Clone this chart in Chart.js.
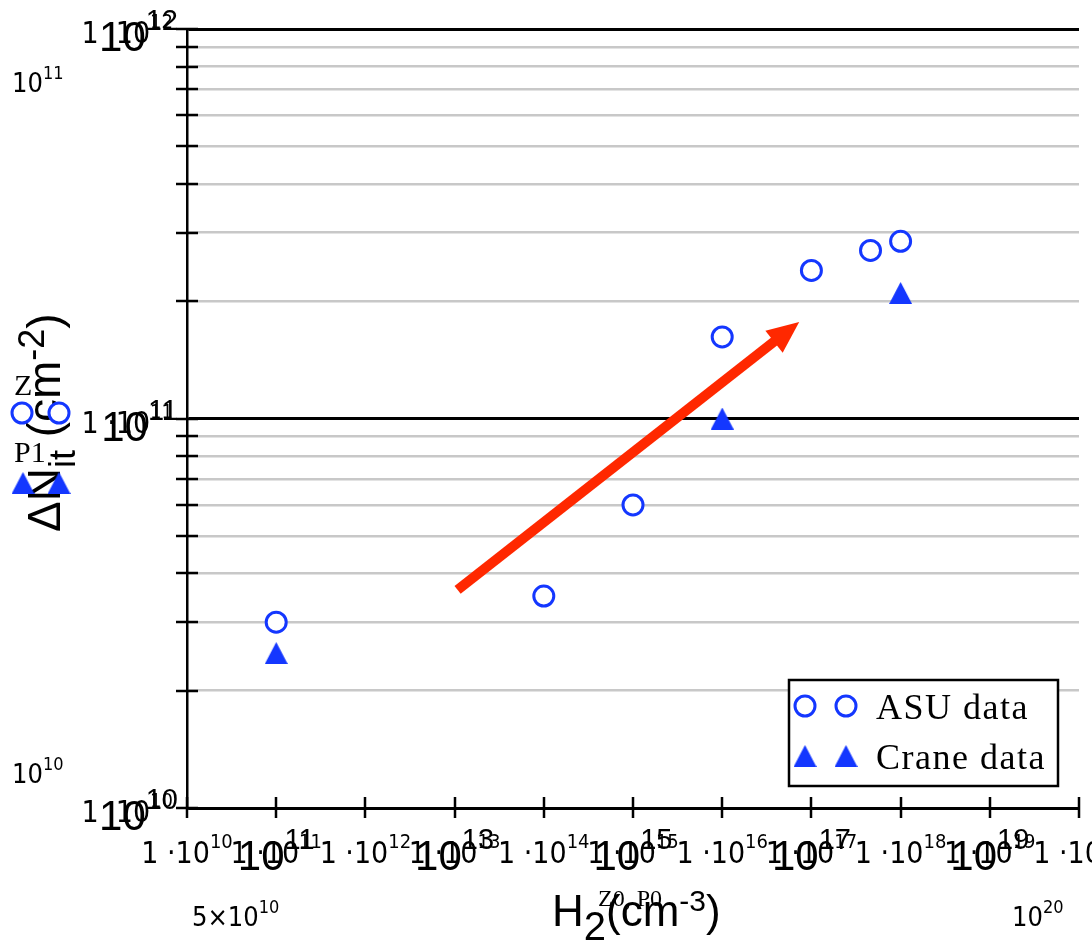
<!DOCTYPE html>
<html>
<head>
<meta charset="utf-8">
<script src="https://cdn.jsdelivr.net/npm/chart.js@4.4.0/dist/chart.umd.min.js"></script>
<style>
  html, body { margin: 0; padding: 0; background: #fff; }
  canvas { display: block; }
</style>
</head>
<body>
<canvas id="myChart" width="1092" height="941"></canvas>
<script>
// H2 concentration (cm^-3) against interface trap build-up (cm^-2)
const asuH2 = [1e11, 1e14, 1e15, 1e16, 1e17, 4.6e17, 1e18];
const asuNit = [3.0e10, 3.5e10, 6.0e10, 1.62e11, 2.4e11, 2.7e11, 2.85e11];
const craneH2 = [1e11, 1e16, 1e18];
const craneNit = [2.5e10, 1.0e11, 2.1e11];

// trend arrow: tail, then tip
const arrowH2 = [1.08e13, 7.3e16];
const arrowNit = [3.63e10, 1.77e11];

// axis decades (exponents) and horizontal grid values
const xDecades = [10, 11, 12, 13, 14, 15, 16, 17, 18, 19, 20];
const yDecades = [10, 11, 12];
const yGridValues = [1e10, 2e10, 3e10, 4e10, 5e10, 6e10, 7e10, 8e10, 9e10,
                     1e11, 2e11, 3e11, 4e11, 5e11, 6e11, 7e11, 8e11, 9e11, 1e12];

const seriesNames = ['ASU data', 'Crane data'];

const blue = '#1437ff';
const red = '#ff2800';
const NARROW = '"Liberation Sans Narrow", "DejaVu Sans Condensed", sans-serif';
const SANS = '"Liberation Sans", Arial, sans-serif';
const SERIF = '"Liberation Serif", "DejaVu Serif", serif';

function makeTriangle(w, h) {
    const c = document.createElement('canvas');
    c.width = w;
    c.height = h;
    const g = c.getContext('2d');
    g.fillStyle = blue;
    g.beginPath();
    g.moveTo(w / 2, 0);
    g.lineTo(w, h);
    g.lineTo(0, h);
    g.closePath();
    g.fill();
    return c;
}
const triangle = makeTriangle(23, 22);

function isMajor(v) {
    return yDecades.some(e => Math.abs(v - Math.pow(10, e)) < v * 1e-6);
}

// "lead10^exp" with a raised exponent
function powText(ctx, x, y, lead, exp, size, family, align, supRatio) {
    supRatio = supRatio || 0.62;
    const supSize = Math.round(size * supRatio);
    ctx.font = size + 'px ' + family;
    const wBase = ctx.measureText(lead + '10').width;
    ctx.font = supSize + 'px ' + family;
    const wSup = ctx.measureText(String(exp)).width;
    const total = wBase + wSup;
    let x0 = x;
    if (align === 'right') x0 = x - total;
    if (align === 'center') x0 = x - total / 2;
    ctx.textAlign = 'left';
    ctx.textBaseline = 'alphabetic';
    ctx.font = size + 'px ' + family;
    ctx.fillText(lead + '10', x0, y);
    ctx.font = supSize + 'px ' + family;
    ctx.fillText(String(exp), x0 + wBase, y - size * 0.5);
}

// draw pieces one after another: [text, size, family, dy]
function runText(ctx, x, y, parts) {
    ctx.textAlign = 'left';
    ctx.textBaseline = 'alphabetic';
    let cx = x;
    parts.forEach(p => {
        ctx.font = p[1] + 'px ' + p[2];
        ctx.fillText(p[0], cx, y + p[3]);
        cx += ctx.measureText(p[0]).width;
    });
}

function drawCircle(ctx, x, y) {
    ctx.save();
    ctx.beginPath();
    ctx.arc(x, y, 10, 0, Math.PI * 2);
    ctx.fillStyle = '#fff';
    ctx.fill();
    ctx.lineWidth = 3;
    ctx.strokeStyle = blue;
    ctx.stroke();
    ctx.restore();
}

function drawTriangle(ctx, x, y) {
    ctx.drawImage(triangle, x - triangle.width / 2, y - triangle.height / 2);
}

const decorations = {
    id: 'decorations',
    afterDraw(chart) {
        const ctx = chart.ctx;
        const xs = chart.scales.x;
        const ys = chart.scales.y;
        const area = chart.chartArea;
        ctx.save();

        // trend arrow
        const x1 = xs.getPixelForValue(arrowH2[0]);
        const y1 = ys.getPixelForValue(arrowNit[0]);
        const x2 = xs.getPixelForValue(arrowH2[1]);
        const y2 = ys.getPixelForValue(arrowNit[1]);
        const len = Math.hypot(x2 - x1, y2 - y1);
        const ux = (x2 - x1) / len;
        const uy = (y2 - y1) / len;
        const headLen = 32;
        const headHalf = 14;
        const bx = x2 - ux * headLen;
        const by = y2 - uy * headLen;
        ctx.strokeStyle = red;
        ctx.fillStyle = red;
        ctx.lineWidth = 10;
        ctx.lineCap = 'butt';
        ctx.beginPath();
        ctx.moveTo(x1, y1);
        ctx.lineTo(bx + ux * 2, by + uy * 2);
        ctx.stroke();
        ctx.beginPath();
        ctx.moveTo(x2, y2);
        ctx.lineTo(bx - uy * headHalf, by + ux * headHalf);
        ctx.lineTo(bx + uy * headHalf, by - ux * headHalf);
        ctx.closePath();
        ctx.fill();

        // cross tick marks
        ctx.strokeStyle = '#000';
        ctx.lineWidth = 2.5;
        ctx.beginPath();
        yGridValues.forEach(v => {
            const py = Math.round(ys.getPixelForValue(v));
            ctx.moveTo(area.left - 11, py);
            ctx.lineTo(area.left + 11, py);
        });
        xDecades.forEach(e => {
            const px = Math.round(xs.getPixelForValue(Math.pow(10, e)));
            ctx.moveTo(px, area.bottom - 11);
            ctx.lineTo(px, area.bottom + 10);
        });
        ctx.stroke();

        // tick labels
        ctx.fillStyle = '#000';
        xDecades.forEach(e => {
            const px = xs.getPixelForValue(Math.pow(10, e));
            powText(ctx, px, area.bottom + 55, '1 \u00b7', e, 30, NARROW, 'center', 0.65);
            if (e % 2 === 1) {
                powText(ctx, px, area.bottom + 62, '', e, 42, SANS, 'center', 0.68);
            }
        });
        yDecades.forEach(e => {
            const py = ys.getPixelForValue(Math.pow(10, e));
            powText(ctx, 173, py + 14, '1 \u00b7', e, 30, NARROW, 'right', 0.65);
            powText(ctx, 178, py + 22, '', e, 42, SANS, 'right', 0.68);
        });

        // range labels
        powText(ctx, 12, 92, '', 11, 27, NARROW, 'left', 0.68);
        powText(ctx, 12, 783, '', 10, 27, NARROW, 'left', 0.68);
        powText(ctx, 192, 926, '5\u00d7', 10, 27, NARROW, 'left', 0.68);
        powText(ctx, 1012, 926, '', 20, 27, NARROW, 'left', 0.68);

        // y axis title
        ctx.save();
        ctx.translate(60, 532);
        ctx.rotate(-Math.PI / 2);
        runText(ctx, 0, 0, [
            ['\u0394N', 46, SANS, 0],
            ['it', 36, SANS, 15],
            [' (cm', 46, SANS, 0],
            ['-2', 36, SANS, -16],
            [')', 46, SANS, 0]
        ]);
        ctx.restore();

        // x axis title
        runText(ctx, 552, 926, [
            ['H', 44, SANS, 0],
            ['2', 40, SANS, 14],
            ['(cm', 44, SANS, 0],
            ['-3', 30, SANS, -15],
            [')', 44, SANS, 0]
        ]);
        ctx.font = '24px ' + SERIF;
        ctx.fillText('Z0, P0', 598, 906);

        // trace keys on the left
        ctx.font = '30px ' + SERIF;
        ctx.fillText('Z', 14, 395);
        ctx.fillText('P1', 14, 462);
        drawCircle(ctx, 22, 413);
        drawCircle(ctx, 59, 413);
        drawTriangle(ctx, 23, 483);
        drawTriangle(ctx, 59, 483);

        // legend box
        ctx.fillStyle = '#fff';
        ctx.fillRect(789, 680, 269, 106);
        ctx.strokeStyle = '#000';
        ctx.lineWidth = 2.5;
        ctx.strokeRect(789, 680, 269, 106);
        drawCircle(ctx, 805, 706);
        drawCircle(ctx, 846, 706);
        drawTriangle(ctx, 805, 756);
        drawTriangle(ctx, 846, 756);
        ctx.fillStyle = '#000';
        ctx.font = '36px ' + SERIF;
        ctx.letterSpacing = '1.5px';
        ctx.fillText(seriesNames[0], 876, 719);
        ctx.fillText(seriesNames[1], 876, 769);
        ctx.letterSpacing = '0px';

        ctx.restore();
    }
};

new Chart(document.getElementById('myChart'), {
    type: 'scatter',
    data: {
        datasets: [{
            label: seriesNames[0],
            data: asuH2.map((v, i) => ({ x: v, y: asuNit[i] })),
            pointStyle: 'circle',
            pointRadius: 10,
            pointBorderWidth: 3,
            borderColor: blue,
            backgroundColor: '#fff'
        }, {
            label: seriesNames[1],
            data: craneH2.map((v, i) => ({ x: v, y: craneNit[i] })),
            pointStyle: triangle,
            pointRadius: 12,
            borderColor: blue,
            backgroundColor: blue
        }]
    },
    options: {
        responsive: false,
        animation: false,
        layout: { padding: { top: 29, right: 11, left: 0, bottom: 0 } },
        plugins: {
            legend: { display: false },
            tooltip: { enabled: false }
        },
        scales: {
            x: {
                type: 'logarithmic',
                min: 1e10,
                max: 1e20,
                afterBuildTicks: s => { s.ticks = xDecades.map(e => ({ value: Math.pow(10, e) })); },
                afterFit: s => { s.height = 133; },
                ticks: { display: false },
                grid: { display: false, drawTicks: false },
                border: { display: true, color: '#000', width: 2.5 }
            },
            y: {
                type: 'logarithmic',
                min: 1e10,
                max: 1e12,
                afterBuildTicks: s => { s.ticks = yGridValues.map(v => ({ value: v })); },
                afterFit: s => { s.width = 187; },
                ticks: { display: false },
                grid: {
                    drawTicks: false,
                    color: c => isMajor(c.tick.value) ? '#000' : '#c8c8c8',
                    lineWidth: c => isMajor(c.tick.value) ? 3 : 2.5
                },
                border: { display: true, color: '#000', width: 2.5 }
            }
        }
    },
    plugins: [decorations]
});
</script>
</body>
</html>
